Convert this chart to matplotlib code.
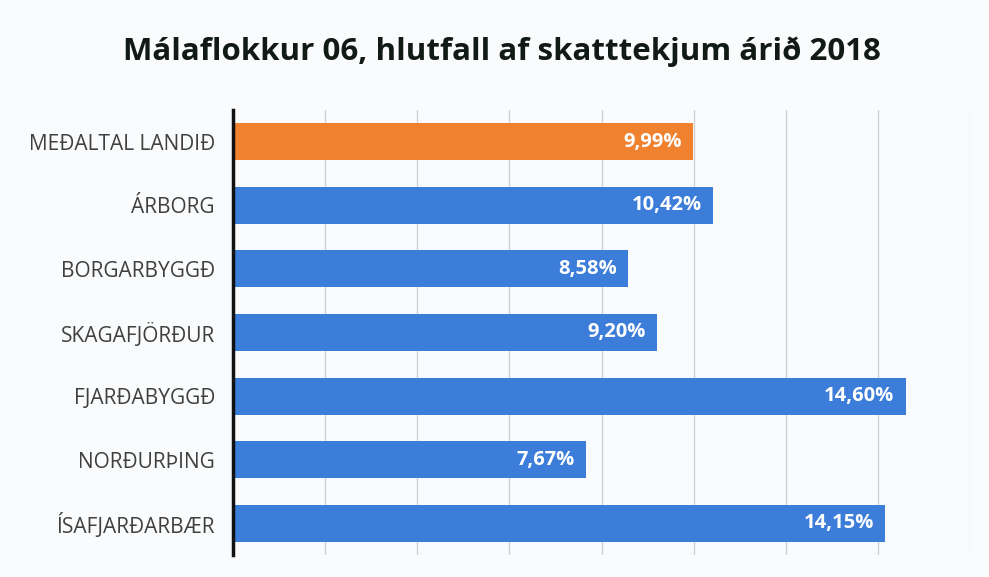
import matplotlib.pyplot as plt

# gögn lesin af myndinni
categories = ['MEÐALTAL LANDIÐ', 'ÁRBORG', 'BORGARBYGGÐ', 'SKAGAFJÖRÐUR',
              'FJARÐABYGGÐ', 'NORÐURÞING', 'ÍSAFJARÐARBÆR']
values = [9.99, 10.42, 8.58, 9.20, 14.60, 7.67, 14.15]
value_labels = ['9,99%', '10,42%', '8,58%', '9,20%', '14,60%', '7,67%', '14,15%']

BLUE = '#3b7dd8'
ORANGE = '#f0812f'

plt.rcParams['font.family'] = ['Open Sans', 'DejaVu Sans']

fig = plt.figure(figsize=(9.89, 5.77), dpi=100)
fig.patch.set_facecolor('#fafbfc')
ax = fig.add_axes([233 / 989, 1 - 555 / 577, (970 - 233) / 989, (555 - 110) / 577])
ax.set_facecolor('#fafbfc')

y = list(range(len(categories)))
colors = [ORANGE] + [BLUE] * (len(categories) - 1)
ax.barh(y, values, height=0.58, color=colors, zorder=2)

for yi, v, lab in zip(y, values, value_labels):
    ax.annotate(lab, (v, yi), xytext=(-8, 0), textcoords='offset points',
                ha='right', va='center', color='white', fontsize=14.5,
                fontweight='bold', zorder=3)

ax.set_xlim(0, 16)
ax.set_ylim(len(categories) - 0.5, -0.5)
ax.set_xticks(range(0, 17, 2))
ax.set_xticklabels([])
ax.tick_params(axis='x', length=0)
ax.tick_params(axis='y', length=0, pad=13)
ax.set_yticks(y)
ax.set_yticklabels(categories, fontsize=15, color='#404040')
ax.grid(axis='x', color='#cfcfcf', linewidth=0.9, zorder=1)

for side in ['top', 'right', 'bottom']:
    ax.spines[side].set_visible(False)
ax.spines['left'].set_linewidth(2.5)
ax.spines['left'].set_color('#111111')
ax.spines['left'].set_zorder(4)

fig.text(502 / 989, 1 - 52 / 577, 'Málaflokkur 06, hlutfall af skatttekjum árið 2018',
         ha='center', va='center', fontsize=22.5, fontweight='bold', color='#111a14')

fig.savefig('out.png', dpi=100, facecolor=fig.get_facecolor())
